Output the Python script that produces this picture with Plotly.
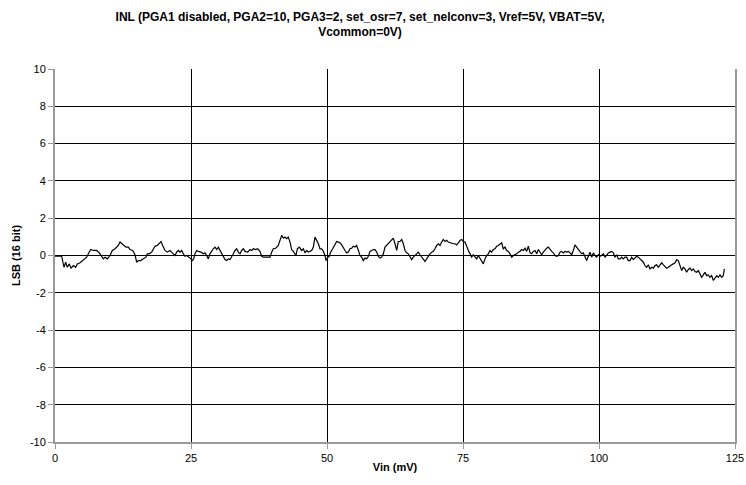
import plotly.graph_objects as go

vin_mv = [
    0, 1.23, 1.65, 1.96, 2.27, 2.63, 2.94, 3.37, 3.80, 4.11, 4.60, 5.02, 5.39, 5.82, 6.13, 6.56,
    7.05, 7.66, 8.15, 8.58, 8.88, 9.19, 9.62, 10.11, 10.54, 11.03, 11.34, 11.64, 11.95, 12.25,
    12.68, 13.05, 13.48, 13.79, 14.28, 14.71, 15.01, 15.32, 15.75, 16.24, 16.73, 16.97, 17.34,
    17.77, 18.08, 18.38, 18.81, 19.18, 19.49, 19.91, 20.22, 20.65, 21.14,
    21.57, 22.06, 22.36, 22.67, 22.98, 23.28, 23.59, 23.90, 24.20, 24.63, 25.0, 25.24, 25.49,
    25.73, 26.04, 26.35, 26.84, 27.27, 27.57, 27.88, 28.19, 28.49, 28.80, 29.10, 29.41, 29.72,
    30.02, 30.33, 30.64, 30.94, 31.25, 31.56, 31.86, 32.17, 32.48, 32.78, 33.09, 33.39, 33.70,
    34.01, 34.31, 34.62, 34.93, 35.42, 35.85, 36.15, 36.46, 36.89, 37.25, 37.68, 37.99, 38.30,
    38.91, 39.52, 39.83, 40.13, 40.56, 41.05, 41.36, 41.67, 41.97,
    42.28, 42.59, 42.89, 43.20, 43.50, 43.81, 44.12, 44.30, 44.55, 44.91, 45.34, 45.65, 45.96,
    46.26, 46.57, 46.87, 47.18, 47.49, 47.79, 48.10, 48.41, 48.71, 49.02, 49.33, 49.63, 49.82,
    50.06, 50.43, 50.67, 51.04, 51.47, 51.78, 52.08, 52.39, 52.70, 53.0, 53.31, 53.61, 53.92,
    54.23, 54.53, 54.84, 55.15, 55.45, 55.76, 56.07, 56.37, 56.68, 56.98, 57.29, 57.60, 57.90,
    58.21, 58.52, 58.82, 59.13, 59.44, 59.74, 60.05, 60.36, 60.66, 60.97, 61.27, 61.58, 61.89,
    62.19, 62.50, 62.81, 63.11, 63.42,
    63.73, 64.03, 64.34, 64.64, 64.95, 65.26, 65.56, 65.87, 66.18, 66.48, 66.79, 67.10, 67.40,
    67.71, 68.01, 68.32, 68.63, 68.93, 69.24, 69.55, 69.85, 70.16, 70.47, 70.77, 71.08, 71.38,
    71.69, 72.0, 72.30, 72.61, 72.92, 73.22, 73.53, 73.84, 74.14, 74.45, 74.75, 75.06, 75.37,
    75.67, 75.98, 76.29, 76.59, 76.90, 77.21, 77.51, 77.82, 78.13, 78.43, 78.74, 79.04, 79.35,
    79.66, 79.96, 80.27, 80.58, 80.88, 81.19, 81.50, 81.80, 82.11, 82.41, 82.72, 83.03, 83.33,
    83.64, 83.95, 84.25,
    84.56, 84.87, 85.17, 85.48, 85.78, 86.09, 86.40, 86.70, 87.01, 87.32, 87.62, 87.93, 88.24,
    88.54, 88.85, 89.15, 89.46, 89.77, 90.07, 90.38, 90.69, 90.99, 91.30, 91.61, 91.91, 92.22,
    92.52, 92.83, 93.14, 93.44, 93.75, 94.06, 94.36, 94.67, 94.98, 95.28, 95.59, 95.89, 96.20,
    96.51, 96.81, 97.12, 97.43, 97.73, 98.04, 98.35, 98.65, 98.96, 99.27, 99.57, 99.88, 100.18,
    100.49, 100.80, 101.10, 101.41, 101.72, 102.02, 102.33, 102.63, 102.94, 103.25, 103.55,
    103.86, 104.17, 104.47, 104.78, 105.09, 105.39, 105.70,
    106.0, 106.31, 106.62, 106.92, 107.23, 107.54, 107.84, 108.15, 108.46, 108.76, 109.07,
    109.37, 109.68, 109.99, 110.29, 110.60, 110.91, 111.21, 111.52, 111.83, 112.13, 112.44,
    112.74, 113.05, 113.36, 113.66, 113.97, 114.28, 114.58, 114.89, 115.20, 115.50, 115.81,
    116.11, 116.42, 116.73, 117.03, 117.34, 117.65, 117.95, 118.26, 118.57, 118.87, 119.18,
    119.48, 119.79, 120.10, 120.40, 120.71, 121.02, 121.32, 121.63, 121.94, 122.24, 122.55,
    122.85, 123.04,
]

inl_lsb = [
    -0.04, -0.04, -0.63, -0.36, -0.63, -0.45, -0.68, -0.54, -0.63, -0.45, -0.39, -0.27, -0.22,
    -0.09, 0.09, 0.32, 0.27, 0.27, 0.14, -0.04, -0.18, -0.09, -0.18, 0, 0.27, 0.36, 0.45, 0.54,
    0.72, 0.63, 0.54, 0.45, 0.45, 0.32, 0.27, 0.04, -0.36, -0.27, -0.27, -0.18, -0.09, 0.09,
    0.09, 0.18, 0.36, 0.50, 0.54, 0.63, 0.75, 0.45, 0.27, 0.18, 0.27,
    0.14, 0, 0.18, 0.27, 0.18, 0.27, 0.09, -0.04, 0, -0.09, -0.18, -0.27, -0.18, 0.09, 0.27,
    0.22, 0.18, 0.09, 0.14, 0, -0.18, 0.09, 0.27, 0.36, 0.45, 0.32, 0.45, 0.27, 0.09, -0.09,
    -0.22, -0.27, -0.18, -0.22, -0.09, 0.09, 0.27, 0.36, 0.18, 0.09, 0.27, 0.36, 0.22, 0.18,
    0.32, 0.27, 0.36, 0.32, 0.36, 0.22, -0.04, -0.09, -0.09, -0.09, 0.18, 0.36, 0.39, 0.54,
    0.81, 1.08, 0.93,
    0.99, 0.90, 0.99, 0.72, 0.32, 0.22, 0.09, 0, 0.36, 0.45, 0.27, 0.36, 0.14, 0.27, 0.18, 0.22,
    0.27, 0.45, 0.99, 0.81, 0.63, 0.36, 0.36, 0.22, 0, -0.27, -0.14, -0.04, 0.18, 0.36, 0.63,
    0.75, 0.72, 0.68, 0.57, 0.39, 0.27, 0.14, 0.18, 0.36, 0.39, 0.50, 0.45, 0.54, 0.27, 0,
    -0.09, -0.27, -0.14, -0.18, -0.04, 0.22, 0.27, 0.32, 0.32, 0.18, -0.04, -0.14, -0.09, 0.09,
    0.45, 0.54, 0.63, 0.72, 0.81, 0.93, 0.63, 0.27, 0.75, 0.75,
    0.86, 0.63, 0.27, 0.14, 0.09, -0.09, -0.22, -0.09, 0, 0.09, 0.18, 0.04, -0.09, -0.18, -0.32,
    -0.18, 0, 0.09, 0.18, 0.22, 0.36, 0.54, 0.63, 0.54, 0.72, 0.86, 0.75, 0.81, 0.72, 0.68,
    0.63, 0.63, 0.63, 0.57, 0.68, 0.81, 0.86, 0.75, 0.72, 0.45, 0.27, 0.09, -0.09, 0.04, -0.09,
    -0.18, 0, -0.14, -0.27, -0.45, -0.18, 0, 0.09, 0.27, 0.18, 0.32, 0.36, 0.50, 0.54, 0.63,
    0.68, 0.36, 0.45, 0.27, 0.22, 0.09, -0.09, 0,
    0.04, 0.09, 0.18, 0.22, 0.32, 0.27, 0.39, 0.22, 0.50, 0.14, 0.09, 0.22, 0.27, 0.09, 0.32,
    0.18, 0.04, 0.18, 0.32, 0.39, 0.45, 0.32, 0.22, 0.14, 0, -0.04, 0, 0.18, 0.22, 0.14, 0.22,
    0.18, 0.22, 0.14, 0.04, 0.27, 0.57, 0.45, 0.32, 0.18, 0.09, 0.14, -0.09, -0.27, -0.04, 0.18,
    -0.09, 0.14, 0, -0.09, 0.04, -0.04, 0, 0.09, -0.09, 0.04, 0.14, 0.18, 0.22, 0.14, -0.09,
    0.04, -0.18, -0.18, -0.09, -0.18, -0.09, -0.09, -0.27, -0.27,
    -0.09, -0.22, -0.14, -0.04, -0.09, -0.18, -0.27, -0.36, -0.54, -0.63, -0.50, -0.72, -0.63,
    -0.68, -0.54, -0.50, -0.63, -0.50, -0.39, -0.50, -0.57, -0.68, -0.63, -0.54, -0.50, -0.45,
    -0.39, -0.22, -0.27, -0.54, -0.81, -0.63, -0.72, -0.90, -0.75, -0.68, -0.81, -0.72, -0.86,
    -0.90, -0.81, -0.99, -1.17, -1.04, -0.90, -1.08, -1.04, -1.17, -1.08, -1.34, -1.22, -1.08,
    -1.17, -1.04, -1.17, -1.08, -0.72,
]

title_text = "INL (PGA1 disabled, PGA2=10, PGA3=2, set_osr=7, set_nelconv=3, Vref=5V, VBAT=5V,<br>Vcommon=0V)"
x_title = "Vin (mV)"
y_title = "LSB (16 bit)"
x_ticks = [0, 25, 50, 75, 100, 125]
y_ticks = [-10, -8, -6, -4, -2, 0, 2, 4, 6, 8, 10]

font_family = "Liberation Sans, Arial, sans-serif"

fig = go.Figure()
fig.add_trace(go.Scatter(
    x=vin_mv, y=inl_lsb, mode="lines",
    line=dict(color="black", width=1.2),
    showlegend=False, hoverinfo="skip",
))

fig.update_layout(
    width=746, height=485,
    paper_bgcolor="white", plot_bgcolor="white",
    margin=dict(l=55, r=11, t=69, b=43, autoexpand=False),
    font=dict(family=font_family, size=11, color="black"),
    title=dict(
        text="<b>" + title_text.replace("<br>", "</b><br><b>") + "</b>",
        x=0.4826, xref="container", xanchor="center",
        y=0.957, yref="container", yanchor="top",
        font=dict(family=font_family, size=12, color="black"),
    ),
)

fig.update_xaxes(
    range=[0, 125], tickvals=x_ticks, ticktext=[str(v) for v in x_ticks],
    showgrid=True, gridcolor="black", gridwidth=1,
    showline=True, linecolor="#9a9a9a", linewidth=2, mirror=False,
    ticks="outside", ticklen=5, tickcolor="#9a9a9a",
    zeroline=False, automargin=False,
    title=dict(text="<b>" + x_title + "</b>", standoff=0,
               font=dict(family=font_family, size=11, color="black")),
    tickfont=dict(family=font_family, size=11, color="black"),
)
fig.update_yaxes(
    range=[-10, 10], tickvals=y_ticks, ticktext=[str(v) for v in y_ticks],
    showgrid=True, gridcolor="black", gridwidth=1,
    showline=True, linecolor="#9a9a9a", linewidth=2, mirror=True,
    ticks="outside", ticklen=5, tickcolor="#9a9a9a",
    zeroline=False, automargin=False,
    title=dict(text="<b>" + y_title + "</b>", standoff=7,
               font=dict(family=font_family, size=11, color="black")),
    tickfont=dict(family=font_family, size=11, color="black"),
)

fig.write_html(
    "out.html",
    config={"displayModeBar": False},
    post_script="document.body.style.margin='0';document.body.style.overflow='hidden';",
)
